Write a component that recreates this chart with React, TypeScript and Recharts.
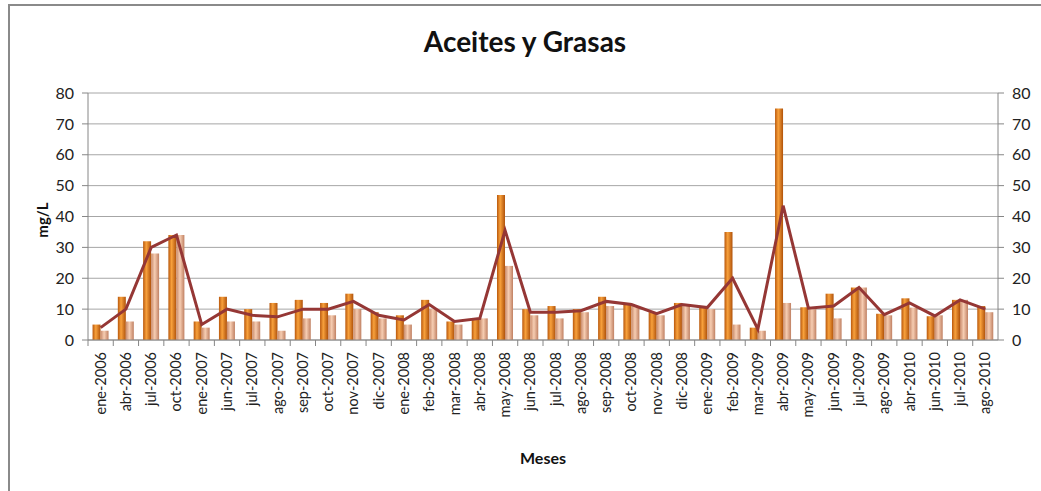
import React from 'react';
import { ComposedChart, Bar, Line, XAxis, YAxis, CartesianGrid } from 'recharts';

const meses = [
  'ene-2006', 'abr-2006', 'jul-2006', 'oct-2006', 'ene-2007', 'jun-2007', 'jul-2007', 'ago-2007',
  'sep-2007', 'oct-2007', 'nov-2007', 'dic-2007', 'ene-2008', 'feb-2008', 'mar-2008', 'abr-2008',
  'may-2008', 'jun-2008', 'jul-2008', 'ago-2008', 'sep-2008', 'oct-2008', 'nov-2008', 'dic-2008',
  'ene-2009', 'feb-2009', 'mar-2009', 'abr-2009', 'may-2009', 'jun-2009', 'jul-2009', 'ago-2009',
  'abr-2010', 'jun-2010', 'jul-2010', 'ago-2010'
];

const serieA = [5, 14, 32, 34, 6, 14, 10, 12, 13, 12, 15, 9, 8, 13, 6, 7, 47, 10, 11, 10, 14, 12, 9, 12, 11, 35, 4, 75, 10.6, 15, 17, 8.5, 13.5, 7.7, 13, 11];
const serieB = [3, 6, 28, 34, 4, 6, 6, 3, 7, 8, 10, 7, 5, 10, 5, 7, 24, 8, 7, 9, 11, 11, 8, 11, 10, 5, 3, 12, 10, 7, 17, 8, 10.5, 8, 13, 9];
const promedio = [4, 10, 30, 34, 5, 10, 8, 7.5, 10, 10, 12.5, 8, 6.5, 11.5, 6, 7, 35.5, 9, 9, 9.5, 12.5, 11.5, 8.5, 11.5, 10.5, 20, 3.5, 43.5, 10.3, 11, 17, 8.2, 12, 7.8, 13, 10];

const yTicks = [0, 10, 20, 30, 40, 50, 60, 70, 80];

const data = meses.map((mes, i) => ({ mes, a: serieA[i], b: serieB[i], prom: promedio[i] }));

const W = 1041;
const H = 491;
const LEFT = 88;
const RIGHT = 998;
const catWidth = (RIGHT - LEFT) / meses.length;
const font = 'Lato, "Open Sans", sans-serif';

function MesTick(props: any) {
  const { x, y, payload } = props;
  return (
    <g>
      <line x1={x - catWidth / 2} y1={y} x2={x - catWidth / 2} y2={y + 6} stroke="#868686" />
      <text
        x={x + 5}
        y={y + 12}
        transform={`rotate(-90, ${x + 5}, ${y + 12})`}
        textAnchor="end"
        fontSize={14.5}
        fill="#222"
        fontFamily={font}
      >
        {payload.value}
      </text>
    </g>
  );
}

export default function App() {
  return (
    <div style={{ position: 'absolute', left: 0, top: 0, width: W, height: H, overflow: 'hidden', background: '#fff' }}>
      <div
        style={{
          position: 'absolute', left: 8, top: 4, width: 1200, height: 700,
          borderLeft: '2px solid #8a8a8a', borderTop: '2px solid #8a8a8a'
        }}
      />
      <div style={{ position: 'absolute', left: 0, width: 1050, top: 24, textAlign: 'center', fontFamily: font, fontWeight: 700, fontSize: 28, color: '#111' }}>
        Aceites y Grasas
      </div>
      <div
        style={{
          position: 'absolute', left: 42, top: 220, transform: 'translate(-50%, -50%) rotate(-90deg)',
          fontFamily: font, fontWeight: 700, fontSize: 15, color: '#111', whiteSpace: 'nowrap'
        }}
      >
        mg/L
      </div>
      <div style={{ position: 'absolute', left: 0, width: 1086, top: 448, textAlign: 'center', fontFamily: font, fontWeight: 700, fontSize: 16, color: '#111' }}>
        Meses
      </div>
      <div style={{ position: 'absolute', left: 0, top: 0 }}>
        <ComposedChart
          width={W}
          height={H}
          data={data}
          margin={{ top: 93, right: 0, bottom: 0, left: 30 }}
          barCategoryGap="18%"
          barGap={0}
        >
          <defs>
            <linearGradient id="gA" x1="0" y1="0" x2="1" y2="0">
              <stop offset="0%" stopColor="#b9580c" />
              <stop offset="40%" stopColor="#f8a13c" />
              <stop offset="100%" stopColor="#b0520a" />
            </linearGradient>
            <linearGradient id="gB" x1="0" y1="0" x2="1" y2="0">
              <stop offset="0%" stopColor="#c98a6a" />
              <stop offset="45%" stopColor="#f6cdb2" />
              <stop offset="100%" stopColor="#c08062" />
            </linearGradient>
          </defs>
          <CartesianGrid vertical={false} stroke="#a6a6a6" yAxisId="left" />
          <XAxis
            dataKey="mes"
            interval={0}
            height={151}
            tick={<MesTick />}
            tickLine={false}
            tickSize={0}
            tickMargin={0}
            axisLine={{ stroke: '#868686' }}
          />
          <YAxis
            yAxisId="left"
            domain={[0, 80]}
            ticks={yTicks}
            width={58}
            tick={{ fontSize: 16, fill: '#222', fontFamily: font, dx: -6 }}
            tickLine={{ stroke: '#868686' }}
            axisLine={{ stroke: '#868686' }}
            tickSize={6}
          />
          <YAxis
            yAxisId="right"
            orientation="right"
            domain={[0, 80]}
            ticks={yTicks}
            width={43}
            tick={{ fontSize: 16, fill: '#222', fontFamily: font, dx: 6 }}
            tickLine={{ stroke: '#868686' }}
            axisLine={{ stroke: '#868686' }}
            tickSize={6}
          />
          <Bar yAxisId="left" dataKey="a" fill="url(#gA)" isAnimationActive={false} />
          <Bar yAxisId="left" dataKey="b" fill="url(#gB)" isAnimationActive={false} />
          <Line
            yAxisId="right"
            type="linear"
            dataKey="prom"
            stroke="#953735"
            strokeWidth={3}
            dot={false}
            isAnimationActive={false}
          />
        </ComposedChart>
      </div>
    </div>
  );
}
